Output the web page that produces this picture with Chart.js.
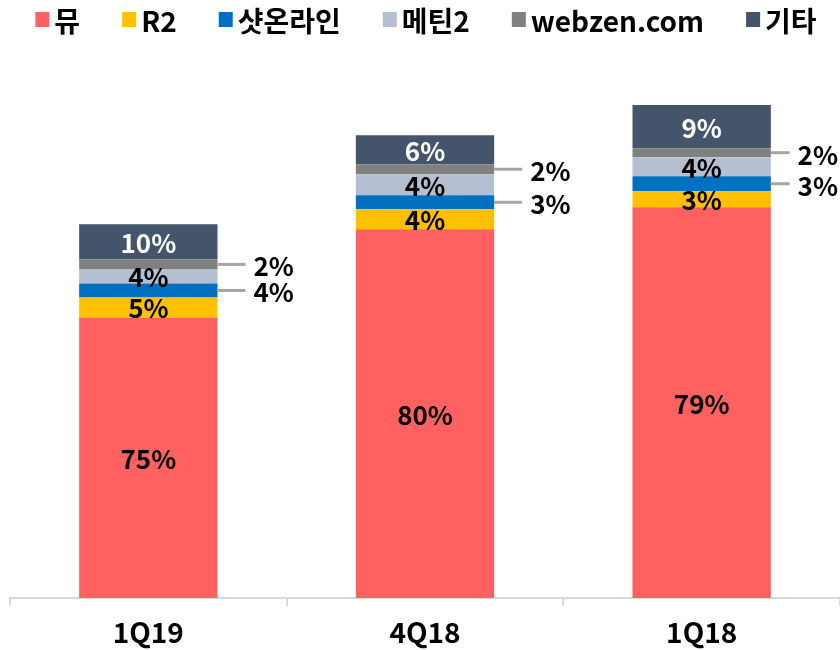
<!DOCTYPE html>
<html>
<head>
<meta charset="utf-8">
<script src="https://cdn.jsdelivr.net/npm/chart.js@4"></script>
<style>
  body { margin: 0; background: #fff; }
</style>
</head>
<body>
<canvas id="myChart" width="840" height="650"></canvas>
<script>
const quarters = ['1Q19', '4Q18', '1Q18'];
const seriesNames = ['뮤', 'R2', '샷온라인', '메틴2', 'webzen.com', '기타'];

// 매출 (억원, 그림에서 읽은 값)
const mu = [280, 368, 390];
const r2 = [20, 20, 16];
const shotOnline = [14, 14, 15];
const metin2 = [14, 21, 19];
const webzenCom = [10, 10, 9];
const others = [35, 29, 43];

// 막대 위 비중 라벨 (%)
const muPct = [75, 80, 79];
const r2Pct = [5, 4, 3];
const shotOnlinePct = [4, 3, 3];
const metin2Pct = [4, 4, 4];
const webzenComPct = [2, 2, 2];
const othersPct = [10, 6, 9];

const colors = ['#ff6161', '#ffc000', '#0070c0', '#b4c0d2', '#808080', '#44546a'];
const values = [mu, r2, shotOnline, metin2, webzenCom, others];
const pcts = [muPct, r2Pct, shotOnlinePct, metin2Pct, webzenComPct, othersPct];
const outside = [false, false, true, false, true, false];
const labelColors = ['#000', '#000', '#000', '#000', '#000', '#fff'];

const FONT = '"Noto Sans CJK KR", "Noto Sans", sans-serif';

const legendPlugin = {
    id: 'topLegend',
    afterDraw(chart) {
        const ctx = chart.ctx;
        ctx.save();
        ctx.font = 'bold 28px ' + FONT;
        ctx.textBaseline = 'middle';
        const box = 14, gap = 5, itemGap = 42;
        const widths = seriesNames.map(n => box + gap + ctx.measureText(n).width);
        const total = widths.reduce((a, b) => a + b, 0) + itemGap * (widths.length - 1);
        let x = 426 - total / 2;
        seriesNames.forEach((name, i) => {
            ctx.fillStyle = colors[i];
            ctx.fillRect(x, 12, box, 15);
            ctx.fillStyle = '#000';
            ctx.fillText(name, x + box + gap, 21);
            x += widths[i] + itemGap;
        });
        ctx.restore();
    }
};

const pctLabels = {
    id: 'pctLabels',
    afterDatasetsDraw(chart) {
        const ctx = chart.ctx;
        ctx.save();
        ctx.font = 'bold 26px ' + FONT;
        ctx.textBaseline = 'middle';
        chart.data.datasets.forEach((ds, i) => {
            const meta = chart.getDatasetMeta(i);
            meta.data.forEach((bar, j) => {
                const p = bar.getProps(['x', 'y', 'base', 'width'], true);
                const cy = (p.y + p.base) / 2;
                const text = pcts[i][j] + '%';
                if (outside[i]) {
                    const right = p.x + p.width / 2;
                    const tw = ctx.measureText(text).width;
                    const len = Math.min(28, chart.width - right - tw - 10);
                    ctx.strokeStyle = '#a6a6a6';
                    ctx.lineWidth = 3;
                    ctx.beginPath();
                    ctx.moveTo(right, cy);
                    ctx.lineTo(right + len, cy);
                    ctx.stroke();
                    ctx.fillStyle = '#000';
                    ctx.textAlign = 'left';
                    ctx.fillText(text, right + len + 8, cy + 2);
                } else {
                    ctx.fillStyle = labelColors[i];
                    ctx.textAlign = 'center';
                    ctx.fillText(text, p.x, cy + 1);
                }
            });
        });
        ctx.restore();
    }
};

const ctx = document.getElementById('myChart').getContext('2d');

new Chart(ctx, {
    type: 'bar',
    data: {
        labels: quarters,
        datasets: seriesNames.map((name, i) => ({
            label: name,
            data: values[i],
            backgroundColor: colors[i],
            borderWidth: 0,
            barPercentage: 0.5,
            categoryPercentage: 1
        }))
    },
    options: {
        responsive: false,
        maintainAspectRatio: false,
        animation: false,
        layout: {
            padding: {top: 50, left: 10, right: 0, bottom: -8}
        },
        scales: {
            x: {
                stacked: true,
                grid: {
                    drawOnChartArea: false,
                    drawTicks: true,
                    tickLength: 8,
                    color: '#d9d9d9',
                    lineWidth: 2
                },
                border: {display: true, color: '#d9d9d9', width: 2},
                ticks: {
                    color: '#000',
                    padding: 12,
                    font: {family: FONT, size: 28, weight: 'bold', lineHeight: 1}
                }
            },
            y: {
                stacked: true,
                display: false,
                min: 0,
                max: 547
            }
        },
        plugins: {
            legend: {display: false},
            tooltip: {enabled: false}
        }
    },
    plugins: [legendPlugin, pctLabels]
});
</script>
</body>
</html>
